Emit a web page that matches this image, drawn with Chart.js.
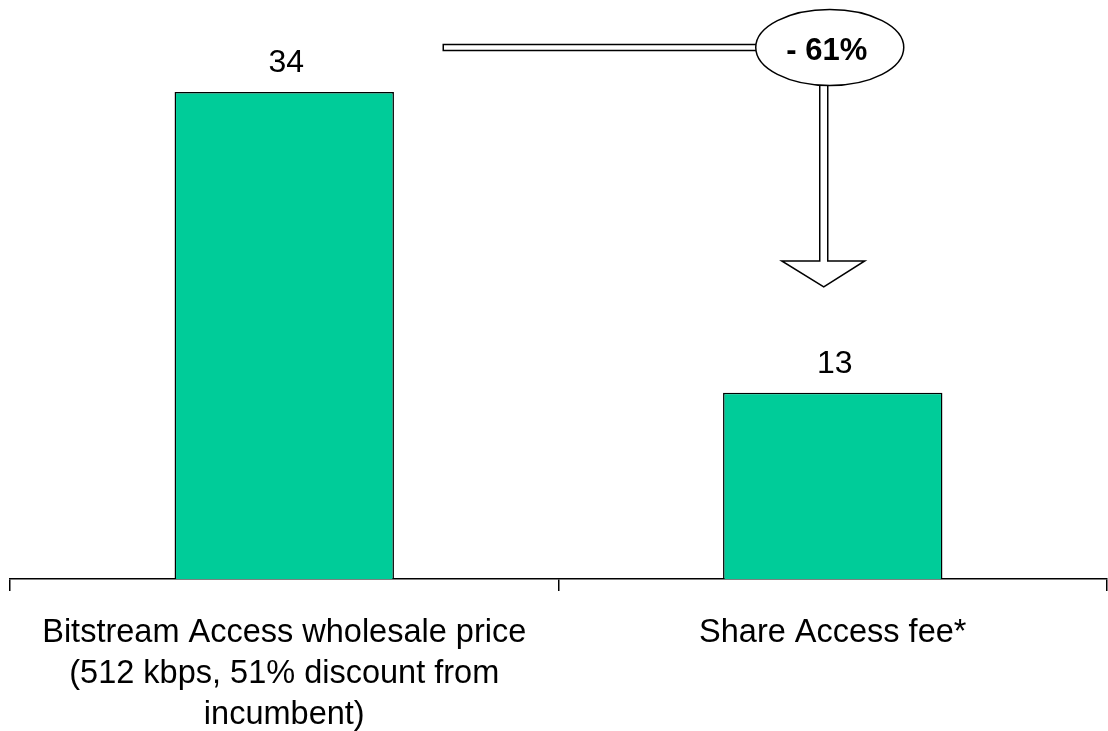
<!DOCTYPE html>
<html>
<head>
<meta charset="utf-8">
<script src="https://cdn.jsdelivr.net/npm/chart.js@4/dist/chart.umd.min.js"></script>
<style>
  html, body { margin: 0; padding: 0; background: #fff; }
  #wrap { width: 1108px; height: 731px; }
</style>
</head>
<body>
<div id="wrap"><canvas id="myChart" width="1108" height="731"></canvas></div>
<script>
/*
  • Data
  ---------- ---------- ---------- ---------- ----------
*/
const categories = [
  ['Bitstream Access wholesale price', '(512 kbps, 51% discount from', 'incumbent)'],
  ['Share Access fee*']
];
const prices = [34, 13];
const changeLabel = '- 61%';

const FONT = "'Liberation Sans', Arial, sans-serif";

/*
  • Plugins
  ---------- ---------- ---------- ---------- ----------
*/
const valueLabels = {
  id: 'valueLabels',
  afterDatasetsDraw(chart) {
    const ctx = chart.ctx;
    const meta = chart.getDatasetMeta(0);
    ctx.save();
    ctx.font = '32px ' + FONT;
    ctx.fillStyle = '#000';
    ctx.textAlign = 'center';
    ctx.textBaseline = 'alphabetic';
    meta.data.forEach(function (bar, i) {
      ctx.fillText(prices[i], bar.x + 2, bar.y - 20);
    });
    ctx.restore();
  }
};

// the "- 61%" callout with its pointer arrow
const dropArrow = {
  id: 'dropArrow',
  afterDraw(chart) {
    const ctx = chart.ctx;
    const x = chart.scales.x;
    const y = chart.scales.y;
    const cx = x.getPixelForValue(1) - 3;
    const cy = y.getPixelForValue(37.1);
    const rx = 74, ry = 38;
    const rodLeft = x.getPixelForValue(0) + 159;
    const shaftX = cx - 6;
    const headY = y.getPixelForValue(22.2);
    const tipY = y.getPixelForValue(20.4);

    ctx.save();
    ctx.lineWidth = 1.5;
    ctx.strokeStyle = '#000';
    ctx.fillStyle = '#fff';

    // horizontal rod
    ctx.beginPath();
    ctx.rect(rodLeft, cy - 3, cx - rx + 4 - rodLeft, 6);
    ctx.fill();
    ctx.stroke();

    // vertical shaft + head
    ctx.beginPath();
    ctx.moveTo(shaftX - 4, cy);
    ctx.lineTo(shaftX - 4, headY);
    ctx.lineTo(shaftX - 42, headY);
    ctx.lineTo(shaftX, tipY);
    ctx.lineTo(shaftX + 41, headY);
    ctx.lineTo(shaftX + 4, headY);
    ctx.lineTo(shaftX + 4, cy);
    ctx.fill();
    ctx.stroke();

    // ellipse
    ctx.beginPath();
    ctx.ellipse(cx, cy, rx, ry, 0, 0, Math.PI * 2);
    ctx.fill();
    ctx.stroke();

    ctx.fillStyle = '#000';
    ctx.font = 'bold 31px ' + FONT;
    ctx.textAlign = 'center';
    ctx.textBaseline = 'middle';
    ctx.fillText(changeLabel, cx - 3, cy + 4);
    ctx.restore();
  }
};

/*
  • Chart
  ---------- ---------- ---------- ---------- ----------
*/
new Chart(document.getElementById('myChart').getContext('2d'), {
  type: 'bar',
  data: {
    labels: categories,
    datasets: [{
      data: prices,
      backgroundColor: '#00CC99',
      borderColor: '#000',
      borderWidth: 1.5,
      borderSkipped: 'bottom',
      barPercentage: 0.4,
      categoryPercentage: 1
    }]
  },
  options: {
    responsive: false,
    animation: false,
    layout: {
      padding: {top: 6, left: 10, right: 1, bottom: 0}
    },
    plugins: {
      legend: {display: false},
      tooltip: {enabled: false}
    },
    scales: {
      x: {
        offset: true,
        border: {display: true, color: '#000', width: 1.5},
        grid: {
          offset: true,
          drawOnChartArea: false,
          drawTicks: true,
          tickLength: 12,
          color: '#000',
          lineWidth: 1.5
        },
        ticks: {
          color: '#000',
          padding: 22,
          maxRotation: 0,
          autoSkip: false,
          font: {family: FONT, size: 32.5, lineHeight: 1.26}
        },
        afterFit: function (scale) {
          scale.height = 152;
        }
      },
      y: {
        display: false,
        min: 0,
        max: 40
      }
    }
  },
  plugins: [valueLabels, dropArrow]
});
</script>
</body>
</html>
